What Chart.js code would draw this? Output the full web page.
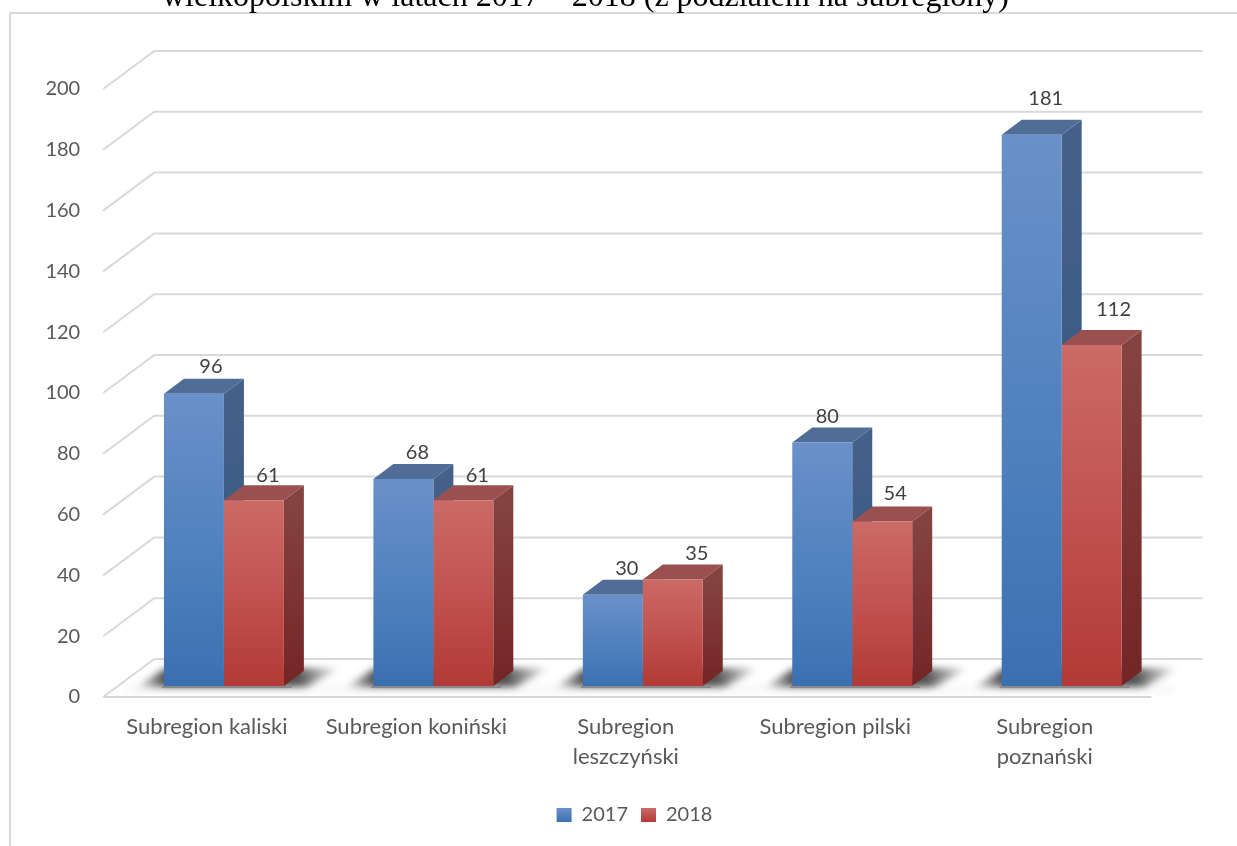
<!DOCTYPE html>
<html lang="pl">
<head>
<meta charset="utf-8">
<title>Subregiony</title>
<script src="https://cdn.jsdelivr.net/npm/chart.js@4"></script>
<style>
html,body{margin:0;padding:0;background:#fff;overflow:hidden;width:1237px;height:846px}
#wrap{position:absolute;left:0;top:0;width:1237px;height:846px}
#title{position:absolute;left:162px;top:-23px;font:32px/37px "Liberation Serif",serif;color:#000;white-space:nowrap}
</style>
</head>
<body>
<div id="wrap"><canvas id="c" width="1237" height="846"></canvas></div>
<div id="title">wielkopolskim w latach 2017 – 2018 (z podziałem na subregiony)</div>
<script>
const categories = ['Subregion kaliski','Subregion koniński',['Subregion','leszczyński'],'Subregion pilski',['Subregion','poznański']];
const values2017 = [96,68,30,80,181];
const values2018 = [61,61,35,54,112];
const seriesNames = ['2017','2018'];

// styling and placement, kept apart from the data
const labelShift2017 = [[17,27],[14,26],[14,26],[5,26],[14,36]];
const labelShift2018 = [[14,25],[14,25],[24,26],[13,28],[22,35]];
const depthX = 20, depthY = 15;
const wallX = 51, wallY = 38;
const UI = 'Lato, "Open Sans", sans-serif';
const FONT = 20, CATFONT = 22;
const GRID = '#d9d9d9';
const palette = [
 {front:['#6a90c9','#4f81bd','#3a70b3'], top:'#4f6d96', side:['#45618a','#2f5580'], swatch:['#6a90c9','#3a70b3']},
 {front:['#cb6a66','#c0504d','#b13a36'], top:'#9a504e', side:['#85433f','#742525'], swatch:['#cb6a66','#b13a36']}
];
const shifts = [labelShift2017, labelShift2018];

function barFill(i){
  return function(ctx){
    const chart = ctx.chart, p = palette[i];
    if(!chart.chartArea || ctx.dataIndex === undefined || !chart.scales.yBar) return p.front[1];
    const y = chart.scales.yBar;
    const v = chart.data.datasets[i].data[ctx.dataIndex];
    const g = chart.ctx.createLinearGradient(0,y.getPixelForValue(v),0,y.getPixelForValue(0));
    g.addColorStop(0,p.front[0]); g.addColorStop(.55,p.front[1]); g.addColorStop(1,p.front[2]);
    return g;
  };
}

const scene3d = {
  id:'scene3d',
  beforeDraw(chart){
    const c = chart.ctx;
    c.save();
    c.fillStyle='#fff'; c.fillRect(0,0,chart.width,chart.height);
    c.strokeStyle=GRID; c.lineWidth=2;
    c.beginPath(); c.moveTo(10,chart.height); c.lineTo(10,13); c.lineTo(chart.width,13); c.stroke();
    c.restore();
  },
  beforeDatasetsDraw(chart){
    const c = chart.ctx, y = chart.scales.y;
    const frontL = chart.chartArea.left - 16, frontR = chart.chartArea.right - 15;
    c.save();
    c.strokeStyle=GRID; c.lineWidth=2; c.lineJoin='miter';
    y.ticks.forEach(t=>{
      const py = y.getPixelForValue(t.value);
      c.beginPath();
      c.moveTo(frontL,py); c.lineTo(frontL+wallX,py-wallY); c.lineTo(frontR+wallX,py-wallY);
      if(t.value===0){ c.moveTo(frontL,py); c.lineTo(frontR,py); }
      c.stroke();
    });
    // floor shadow of each bar pair
    const m0 = chart.getDatasetMeta(0), m1 = chart.getDatasetMeta(1);
    m0.data.forEach((b,i)=>{
      const l = b.x-b.width/2, r = m1.data[i].x+m1.data[i].width/2, base = b.base;
      c.save();
      c.filter='blur(4px)';
      c.fillStyle='rgba(0,0,0,.05)';
      c.fillRect(l-38,base+1,r-l+90,5);
      c.filter='blur(3.5px)';
      const g = c.createLinearGradient(l-30,0,r+56,0);
      const span = r-l+86;
      g.addColorStop(0,'rgba(40,40,40,0)');
      g.addColorStop(30/span,'rgba(40,40,40,.8)');
      g.addColorStop((r-l+30+14)/span,'rgba(40,40,40,.8)');
      g.addColorStop(1,'rgba(40,40,40,0)');
      c.fillStyle=g;
      c.beginPath();
      c.moveTo(l-28,base+1); c.lineTo(l,base-17); c.lineTo(r+58,base-18); c.lineTo(r+22,base+1);
      c.closePath(); c.fill();
      c.restore();
      c.fillStyle='#8a8a8a';
      c.fillRect(l-2,base,r-l+10,2);
    });
    // side and top faces: 2017 first, so 2018 sits in front of it
    [0,1].forEach(di=>{
      const p = palette[di];
      chart.getDatasetMeta(di).data.forEach(b=>{
        const l = b.x-b.width/2, r = b.x+b.width/2, t = b.y, base = b.base;
        const g = c.createLinearGradient(0,t,0,base);
        g.addColorStop(0,p.side[0]); g.addColorStop(1,p.side[1]);
        c.fillStyle=g;
        c.beginPath(); c.moveTo(r,t); c.lineTo(r+depthX,t-depthY); c.lineTo(r+depthX,base-depthY); c.lineTo(r,base); c.closePath(); c.fill();
        c.fillStyle=p.top;
        c.beginPath(); c.moveTo(l,t); c.lineTo(l+depthX,t-depthY); c.lineTo(r+depthX,t-depthY); c.lineTo(r,t); c.closePath(); c.fill();
      });
    });
    c.restore();
  },
  afterDatasetsDraw(chart){
    const c = chart.ctx;
    c.save();
    c.font = FONT+'px '+UI; c.fillStyle='#404040'; c.textAlign='center'; c.textBaseline='middle';
    chart.data.datasets.forEach((ds,di)=>{
      chart.getDatasetMeta(di).data.forEach((b,i)=>{
        c.fillText(String(ds.data[i]), b.x+shifts[di][i][0], b.y-shifts[di][i][1]);
      });
    });
    c.restore();
  }
};

const baseCtx = document.getElementById('c').getContext('2d');
new Chart(baseCtx,{
  type:'bar',
  data:{labels:categories,datasets:[
    {label:seriesNames[0],data:values2017,backgroundColor:barFill(0),yAxisID:'yBar',xAxisID:'x',categoryPercentage:.5725,barPercentage:1,borderWidth:0},
    {label:seriesNames[1],data:values2018,backgroundColor:barFill(1),yAxisID:'yBar',xAxisID:'x',categoryPercentage:.5725,barPercentage:1,borderWidth:0}
  ]},
  options:{
    responsive:false,animation:false,
    layout:{padding:{left:32,right:0,top:89,bottom:11}},
    scales:{
      x:{
        position:'bottom',offset:true,
        grid:{display:false},border:{display:false},
        afterFit(s){s.height=95;},
        ticks:{autoSkip:false,maxRotation:0,minRotation:0,labelOffset:-17,padding:7,color:'#595959',font:{family:UI,size:CATFONT,lineHeight:30/CATFONT}}
      },
      y:{
        position:'left',min:0,max:200,bounds:'data',
        grid:{display:false},border:{display:false},
        afterFit(s){s.width=87.2;},
        ticks:{stepSize:20,padding:31,color:'#595959',font:{family:UI,size:FONT}}
      },
      yBar:{
        position:'right',display:true,min:-3.61,max:196.06,bounds:'data',
        grid:{display:false},border:{display:false},
        afterFit(s){s.width=70.6;},
        ticks:{display:false}
      }
    },
    plugins:{
      title:{display:false},
      tooltip:{enabled:false},
      legend:{
        display:true,position:'bottom',align:'center',
        labels:{
          boxWidth:15,boxHeight:14,padding:13,color:'#595959',font:{family:UI,size:FONT},
          generateLabels(chart){
            const items = Chart.defaults.plugins.legend.labels.generateLabels(chart);
            items.forEach(it=>{
              const g = chart.ctx.createLinearGradient(0,808,0,822);
              const s = palette[it.datasetIndex].swatch;
              g.addColorStop(0,s[0]); g.addColorStop(1,s[1]);
              it.fillStyle=g; it.strokeStyle='transparent'; it.lineWidth=0;
            });
            return items;
          }
        }
      }
    }
  },
  plugins:[scene3d]
});
</script>
</body>
</html>
